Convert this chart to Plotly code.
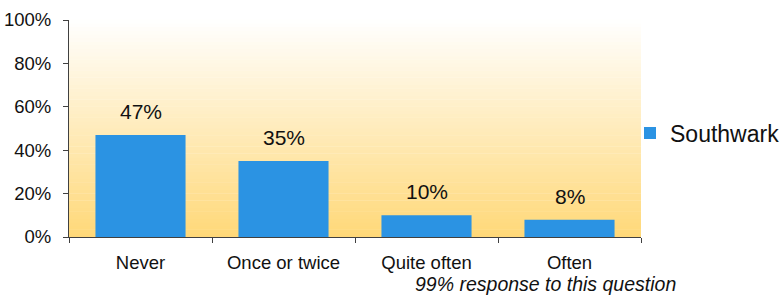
import plotly.graph_objects as go

categories = ["Never", "Once or twice", "Quite often", "Often"]
values = [47, 35, 10, 8]
labels = ["47%", "35%", "10%", "8%"]
series_name = "Southwark"
y_ticks = [0, 20, 40, 60, 80, 100]
y_tick_labels = ["0%", "20%", "40%", "60%", "80%", "100%"]
note = "99% response to this question"

fig = go.Figure()
fig.add_trace(go.Bar(
    x=categories, y=values, name=series_name,
    marker=dict(color="#2B93E3", line=dict(width=0)),
    width=0.63, showlegend=True,
))

# gradient background bands
shapes = []
n = 60
top = (255, 255, 255)
bot = (255, 216, 120)
for i in range(n):
    t = (i + 0.5) / n  # 0 at bottom
    f = 1 - t
    c = tuple(int(round(top[k] + (bot[k] - top[k]) * f)) for k in range(3))
    shapes.append(dict(type="rect", xref="x domain", yref="y domain",
                       x0=0, x1=1, y0=i / n, y1=(i + 1) / n + 0.002,
                       fillcolor="rgb(%d,%d,%d)" % c, line=dict(width=0), layer="below"))

annotations = []
for c, v, l in zip(categories, values, labels):
    annotations.append(dict(x=c, y=v, text=l, showarrow=False, yanchor="bottom",
                            yshift=10, font=dict(size=21, color="#111111")))
annotations.append(dict(x=1.0 + (678 - 641) / 572, y=(237 - 284) / 217,
                        xref="paper", yref="paper", text="<i>" + note + "</i>",
                        showarrow=False, xanchor="right", yanchor="middle",
                        font=dict(size=19.5, color="#111111")))

fig.update_layout(
    width=784, height=296,
    margin=dict(l=69, r=143, t=20, b=59, autoexpand=False),
    paper_bgcolor="white", plot_bgcolor="white",
    font=dict(family="Liberation Sans, Arial, sans-serif", size=18.5, color="#111111"),
    shapes=shapes, annotations=annotations,
    bargap=0.37,
    legend=dict(x=1.0 + (630 - 641) / 572, y=(237 - 133) / 217, xanchor="left", yanchor="middle",
                font=dict(size=23, color="#111111"), itemwidth=30,
                bgcolor="rgba(0,0,0,0)"),
    xaxis=dict(showline=True, linecolor="#404040", linewidth=1, ticks="outside",
               tickson="boundaries", ticklen=5, tickcolor="#404040", automargin=False,
               showgrid=False, tickfont=dict(size=18.5), ticklabelstandoff=9),
    yaxis=dict(range=[0, 100], tickvals=y_ticks, ticktext=y_tick_labels, automargin=False,
               showline=True, linecolor="#404040", linewidth=1, ticks="outside",
               ticklen=5, tickcolor="#404040", showgrid=False, zeroline=False,
               tickfont=dict(size=18.5), ticklabelstandoff=8),
)

fig.write_html("out.html", config={"displayModeBar": False},
               post_script="document.body.style.margin='0';document.body.style.overflow='hidden';")
